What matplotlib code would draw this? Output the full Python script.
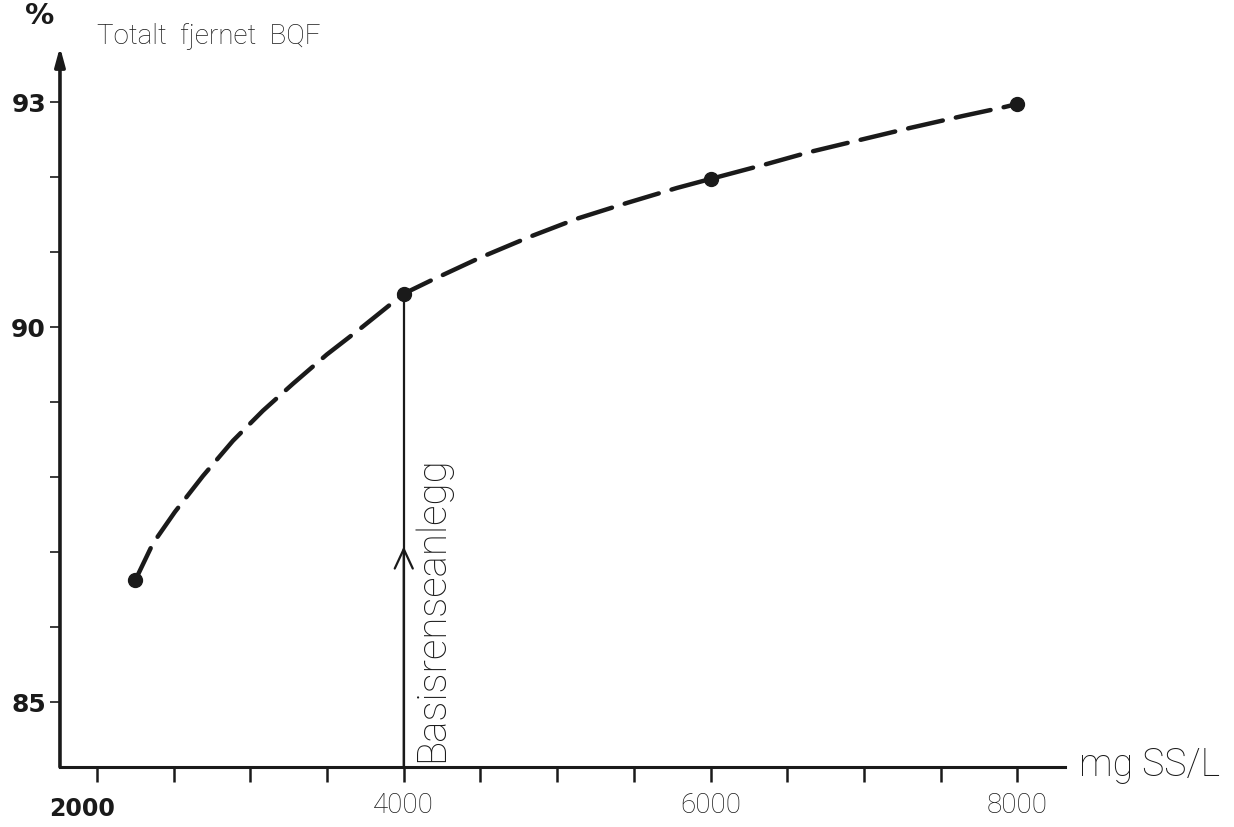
import matplotlib
matplotlib.use("Agg")
import matplotlib.pyplot as plt
import matplotlib.transforms as mtransforms

# measured points (dots on the curve)
point_x = [2250, 4000, 6000, 8000]
point_y = [86.62, 90.44, 91.97, 92.97]

# hand drawn dashed curve
curve_x = [2250, 2365, 2508, 2691, 2887, 3082, 3278, 3499, 3714, 4000,
           4171, 4497, 4823, 5129, 5455, 5781, 6000, 6368, 6648, 6974,
           7300, 7645, 7919, 8000]
curve_y = [86.62, 87.11, 87.53, 88.01, 88.48, 88.88, 89.24, 89.63, 89.97, 90.44,
           90.61, 90.92, 91.20, 91.44, 91.65, 91.85, 91.97, 92.17, 92.33, 92.49,
           92.65, 92.81, 92.93, 92.97]

x_ticks = list(range(2000, 8001, 500))
x_labels = ["2000", "4000", "6000", "8000"]
y_ticks = list(range(85, 94))
y_labels = ["85", "90", "93"]

basis_x = 4000
arrow_y = 87.07

ink = "#1a1a1a"
light_font = ["Roboto", "DejaVu Sans"]

fig = plt.figure(figsize=(12.34, 8.28), dpi=100)
ax = fig.add_axes([0.0486, 0.0725, 0.8144, 0.8696])
xmin, xmax = 1759, 8310
ymin, ymax = 84.13, 93.73
ax.set_xlim(xmin, xmax)
ax.set_ylim(ymin, ymax)

for s in ["top", "right", "left"]:
    ax.spines[s].set_visible(False)
ax.spines["bottom"].set_linewidth(2.2)
ax.spines["bottom"].set_color(ink)

# y axis with arrow head
ax.annotate("", xy=(xmin, ymax), xytext=(xmin, ymin), xycoords="data",
            arrowprops=dict(arrowstyle="-|>,head_length=1.1,head_width=0.3",
                            lw=2.6, color=ink, shrinkA=0, shrinkB=0),
            annotation_clip=False)

ax.set_xticks(x_ticks)
ax.set_xticklabels([str(t) if str(t) in x_labels else "" for t in x_ticks])
ax.set_yticks(y_ticks)
ax.set_yticklabels([str(t) if str(t) in y_labels else "" for t in y_ticks])
ax.tick_params(axis="x", direction="out", length=11, width=1.8, color=ink,
               pad=6, labelsize=20, labelcolor=ink)
ax.tick_params(axis="y", direction="out", length=7, width=1.2, color=ink,
               pad=3, labelsize=18, labelcolor=ink)
for lbl in ax.get_yticklabels():
    lbl.set_fontweight("bold")
shift = mtransforms.ScaledTranslation(-15 / 100, -5 / 100, fig.dpi_scale_trans)
for lbl in ax.get_xticklabels():
    if lbl.get_text() == "2000":
        lbl.set_fontweight("bold")
        lbl.set_fontsize(17)
        lbl.set_transform(lbl.get_transform() + shift)
    else:
        lbl.set_family(light_font)
        lbl.set_fontweight("light")

# dashed curve and points
line, = ax.plot(curve_x, curve_y, color=ink, lw=3.2, dash_capstyle="round",
                solid_joinstyle="round", dash_joinstyle="round")
line.set_dashes((8, 3))
ax.plot(point_x, point_y, "o", color=ink, markersize=10)

# vertical line at basis plant with an open arrow head
ax.plot([basis_x, basis_x], [ymin, point_y[1]], color=ink, lw=1.6)
ax.annotate("", xy=(basis_x, arrow_y), xytext=(basis_x, ymin),
            arrowprops=dict(arrowstyle="->,head_length=1.4,head_width=0.65",
                            lw=1.6, color=ink, shrinkA=0, shrinkB=0))
ax.text(4184, 86.25, "Basisrenseanlegg", rotation=90, ha="center", va="center",
        fontsize=29, color=ink, family=light_font, fontweight="light")

# labels
ax.text(2000, 93.88, "Totalt  fjernet  BQF", ha="left", va="center",
        fontsize=20, color=ink, family=light_font, fontweight="light")
ax.text(1628, 94.15, "%", ha="center", va="center", fontsize=21,
        fontweight="bold", color=ink)
ax.text(8400, ymin + 0.03, "mg SS/L", ha="left", va="center", fontsize=27,
        color=ink, family=light_font, fontweight="light")

fig.savefig("out.png", dpi=100)
plt.close(fig)
